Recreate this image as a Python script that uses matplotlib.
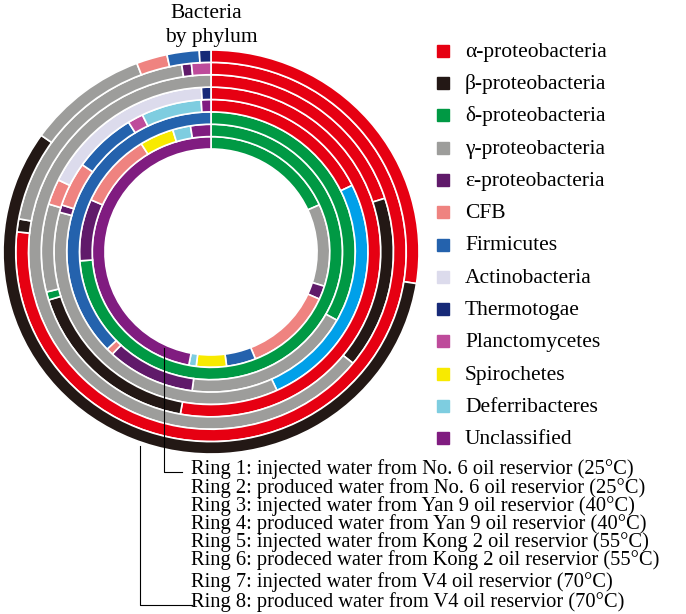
import matplotlib
matplotlib.use("Agg")
import matplotlib.pyplot as plt

plt.rcParams['font.family'] = ['Liberation Serif', 'DejaVu Serif']

# legend categories and their colours
categories = ['α-proteobacteria', 'β-proteobacteria', 'δ-proteobacteria', 'γ-proteobacteria',
              'ε-proteobacteria', 'CFB', 'Firmicutes', 'Actinobacteria', 'Thermotogae',
              'Planctomycetes', 'Spirochetes', 'Deferribacteres', 'Unclassified']
cat_colors = ['#e60012', '#231815', '#009944', '#9d9d9b', '#601a6a', '#ef8380', '#2462ad',
              '#dcdbec', '#172a78', '#be4b9b', '#f8ea00', '#7ecde0', '#801c80']
# ring 4 has one segment in a bright blue that is not in the legend
extra_name = 'Deferribacteres (bright)'
extra_color = '#00a0e9'

# relative abundance (%) per ring, clockwise from 12 o'clock
ring1_taxa = ['δ-proteobacteria', 'γ-proteobacteria', 'ε-proteobacteria', 'CFB', 'Firmicutes',
              'Spirochetes', 'Deferribacteres', 'Unclassified']
ring1_pct = [18.3, 11.5, 1.9, 12.2, 4.0, 4.1, 1.0, 47.0]

ring2_taxa = ['δ-proteobacteria', 'ε-proteobacteria', 'CFB', 'Spirochetes', 'Deferribacteres',
              'Unclassified']
ring2_pct = [73.9, 7.8, 9.4, 4.2, 2.2, 2.5]

ring3_taxa = ['δ-proteobacteria', 'γ-proteobacteria', 'ε-proteobacteria', 'CFB', 'Firmicutes']
ring3_pct = [33.1, 19.0, 9.9, 0.8, 37.2]

ring4_taxa = ['α-proteobacteria', extra_name, 'γ-proteobacteria', 'ε-proteobacteria', 'CFB',
              'Firmicutes', 'Planctomycetes', 'Deferribacteres', 'Unclassified']
ring4_pct = [17.8, 25.3, 36.1, 0.8, 4.7, 6.5, 1.6, 6.2, 1.0]

ring5_taxa = ['α-proteobacteria', 'β-proteobacteria', 'δ-proteobacteria', 'γ-proteobacteria',
              'CFB', 'Actinobacteria', 'Thermotogae']
ring5_pct = [52.9, 17.4, 0.8, 8.6, 2.5, 16.9, 0.9]

ring6_taxa = ['α-proteobacteria', 'β-proteobacteria', 'γ-proteobacteria']
ring6_pct = [20.1, 15.7, 64.2]

ring7_taxa = ['α-proteobacteria', 'β-proteobacteria', 'γ-proteobacteria', 'ε-proteobacteria',
              'Planctomycetes']
ring7_pct = [76.7, 1.1, 19.8, 0.8, 1.6]

ring8_taxa = ['α-proteobacteria', 'β-proteobacteria', 'γ-proteobacteria', 'CFB', 'Firmicutes',
              'Thermotogae']
ring8_pct = [27.5, 57.3, 9.4, 2.4, 2.5, 0.9]

ring_labels = [
    'Ring 1: injected water from No. 6 oil reservior (25°C)',
    'Ring 2: produced water from No. 6 oil reservior (25°C)',
    'Ring 3: injected water from Yan 9 oil reservior (40°C)',
    'Ring 4: produced water from Yan 9 oil reservior (40°C)',
    'Ring 5: injected water from Kong 2 oil reservior (55°C)',
    'Ring 6: prodeced water from Kong 2 oil reservior (55°C)',
    'Ring 7: injected water from V4 oil reservior (70°C)',
    'Ring 8: produced water from V4 oil reservior (70°C)',
]

color_of = dict(zip(categories, cat_colors))
color_of[extra_name] = extra_color

rings = [(ring1_taxa, ring1_pct), (ring2_taxa, ring2_pct), (ring3_taxa, ring3_pct),
         (ring4_taxa, ring4_pct), (ring5_taxa, ring5_pct), (ring6_taxa, ring6_pct),
         (ring7_taxa, ring7_pct), (ring8_taxa, ring8_pct)]

W, H = 686, 614
fig = plt.figure(figsize=(W / 100, H / 100), dpi=100)

# donut axes (centre at 211,252 px, outer radius 208 x 202 px)
cx, cy, rx, ry = 211, 252, 208, 202
ax = fig.add_axes([(cx - rx) / W, (H - cy - ry) / H, 2 * rx / W, 2 * ry / H])
r_in = 103 / 202
ring_w = (1 - r_in) / 8
for i, (taxa, pct) in enumerate(rings):
    ax.pie(pct, colors=[color_of[t] for t in taxa], radius=r_in + (i + 1) * ring_w,
           startangle=90, counterclock=False,
           wedgeprops=dict(width=ring_w, edgecolor='white', linewidth=1.2))
ax.set_aspect('auto')
ax.set_xlim(-1, 1)
ax.set_ylim(-1, 1)
ax.axis('off')

# overlay in pixel coordinates for texts, legend and leader lines
ov = fig.add_axes([0, 0, 1, 1])
ov.set_xlim(0, W)
ov.set_ylim(H, 0)
ov.axis('off')
ov.patch.set_alpha(0)

ov.text(206, 18, 'Bacteria', ha='center', va='baseline', fontsize=15.5)
ov.text(211, 42, 'by phylum', ha='center', va='baseline', fontsize=15.5)

for i, (cat, col) in enumerate(zip(categories, cat_colors)):
    y = 50.7 + i * 32.3
    ov.plot(442.5, y, marker='s', markersize=8, color=col, linestyle='none')
    ov.text(465, y + 6, cat, ha='left', va='baseline', fontsize=15.5)

label_y = [474, 493, 511, 529, 547, 565, 587, 607]
for lab, y in zip(ring_labels, label_y):
    ov.text(191, y, lab, ha='left', va='baseline', fontsize=14.8)

ov.plot([163.5, 163.5, 182], [348, 472, 472], color='black', linewidth=0.8)
ov.plot([139.5, 139.5, 192], [446, 605, 605], color='black', linewidth=0.8)

fig.savefig('out.png', dpi=100)
